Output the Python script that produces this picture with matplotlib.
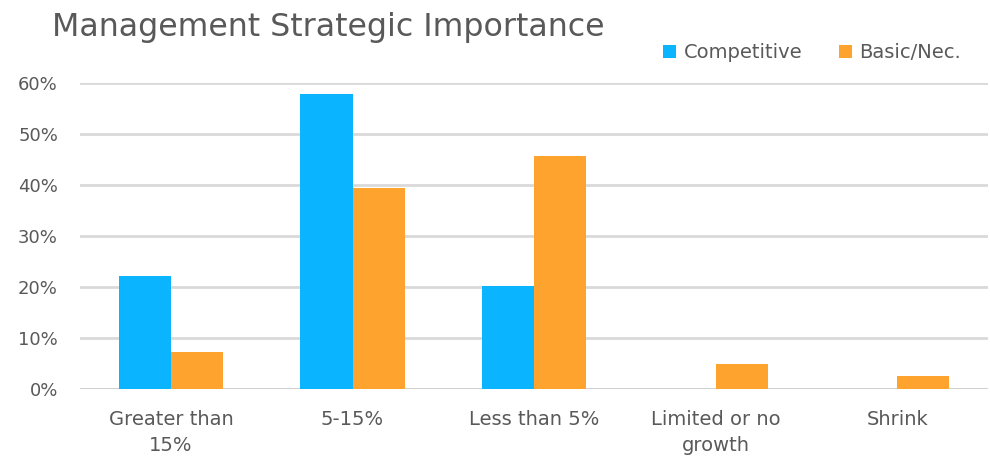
import numpy as np
import matplotlib.pyplot as plt
from matplotlib.ticker import PercentFormatter

plt.rcParams["font.family"] = ["DejaVu Sans"]

categories = ["Greater than\n15%", "5-15%", "Less than 5%", "Limited or no\ngrowth", "Shrink"]
competitive = [22.2, 57.8, 20.2, 0.0, 0.0]
basic = [7.3, 39.4, 45.7, 4.9, 2.5]

blue = "#0BB4FF"
orange = "#FFA32F"
grey = "#595959"

fig = plt.figure(figsize=(9.9, 4.59), dpi=100)
ax = fig.add_axes([0.081, 0.1525, 0.917, 0.6667])

x = np.arange(len(categories))
w = 0.287
ax.bar(x - w / 2, competitive, w, color=blue, label="Competitive", zorder=3)
ax.bar(x + w / 2, basic, w, color=orange, label="Basic/Nec.", zorder=3)

ax.set_xlim(-0.5, len(categories) - 0.5)
ax.set_ylim(0, 60)
ax.set_yticks(np.arange(0, 61, 10))
ax.yaxis.set_major_formatter(PercentFormatter(decimals=0))
ax.grid(axis="y", color="#D9D9D9", linewidth=2, zorder=0)
for s in ax.spines.values():
    s.set_visible(False)
ax.axhline(0, color="#D0D0D0", linewidth=2, zorder=2)

ax.set_xticks(x)
ax.set_xticklabels(categories, linespacing=1.5)
ax.tick_params(axis="both", length=0, colors=grey)
ax.tick_params(axis="x", pad=15, labelsize=14)
ax.tick_params(axis="y", pad=16, labelsize=13)

fig.text(0.053, 0.922, "Management Strategic Importance", fontsize=22.8, color=grey,
         va="baseline")
ax.legend(loc="center right", bbox_to_anchor=(0.97, 1.098), ncol=2, frameon=False,
          fontsize=14, labelcolor=grey, handlelength=0.67, handleheight=0.67,
          handletextpad=0.36, columnspacing=1.9, borderpad=0, borderaxespad=0)

fig.savefig("out.png")
